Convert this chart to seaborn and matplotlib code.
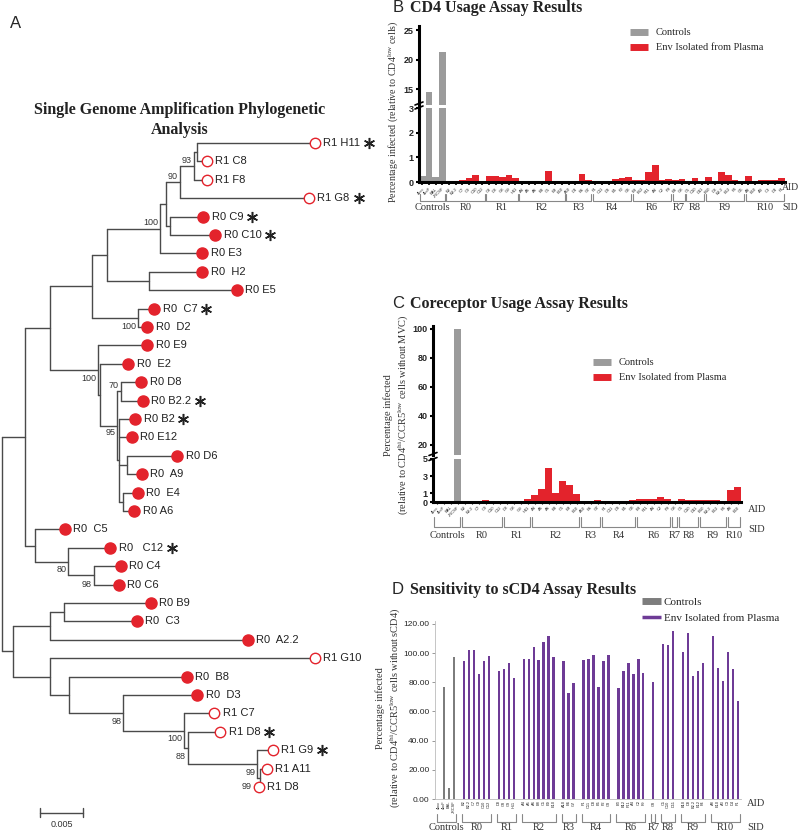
import numpy as np
import pandas as pd
import seaborn as sns
import matplotlib.pyplot as plt
from matplotlib.lines import Line2D
from matplotlib.transforms import blended_transform_factory

W, H = 800, 834

# ---------------- panel A: SGA phylogeny ----------------
LEAF_NAMES = ["R1 H11", "R1 C8", "R1 F8", "R1 G8", "R0 C9", "R0 C10", "R0 E3", "R0  H2",
              "R0 E5", "R0  C7", "R0  D2", "R0 E9", "R0  E2", "R0 D8", "R0 B2.2", "R0 B2",
              "R0 E12", "R0 D6", "R0  A9", "R0  E4", "R0 A6", "R0  C5", "R0   C12", "R0 C4",
              "R0 C6", "R0 B9", "R0  C3", "R0  A2.2", "R1 G10", "R0  B8", "R0  D3", "R1 C7",
              "R1 D8", "R1 G9", "R1 A11", "R1 D8"]
LEAF_DEPTH = [0.0364, 0.0238, 0.0238, 0.0357, 0.0234, 0.0248, 0.0233, 0.0233,
              0.0273, 0.0177, 0.0169, 0.0169, 0.0147, 0.0162, 0.0164, 0.0155,
              0.0151, 0.0204, 0.0163, 0.0158, 0.0154, 0.0073, 0.0126, 0.0138,
              0.0136, 0.0173, 0.0157, 0.0286, 0.0364, 0.0215, 0.0227, 0.0247,
              0.0254, 0.0315, 0.0308, 0.0299]
LEAF_STAR = [0, 3, 4, 5, 9, 14, 15, 22, 32, 33]

# (depth, (bootstrap, label dy px, label dx px), children)
TREE = (0.0, None, [
    (0.0027, None, [
        (0.0056, None, [
            (0.0105, None, [
                (0.0122, None, [
                    (0.0184, ("100", -6, -2), [
                        (0.0191, None, [
                            (0.0207, ("90", -6, -2), [
                                (0.0223, ("93", -5, -2), [(0.0227, None, [0, 1]), 2]),
                                3]),
                            (0.0195, None, [4, 5])]),
                        6]),
                    (0.0171, None, [7, 8])]),
                (0.0158, ("100", 9, -2), [9, 10])]),
            (0.0112, ("100", 8, -2), [11,
                (0.0114, None, [12,
                    (0.0134, ("95", 7, -2), [
                        (0.0138, ("70", -6, -2), [13, 14]),
                        (0.0136, None, [15, 16, (0.0145, None, [17, 18]),
                                        (0.0141, None, [19, 20])])])])])]),
        (0.0038, None, [21, (0.0077, ("80", 8, -2), [22, (0.0107, ("98", 9, -2), [23, 24])])])]),
    (0.0013, None, [
        (0.0056, None, [(0.0072, None, [25, 26]), 27]),
        (0.0056, None, [28,
            (0.0078, None, [29,
                (0.0141, ("98", 9, -2), [30,
                    (0.0212, ("100", 8, -2), [31,
                        (0.0216, ("88", 9, -2), [32,
                            (0.0297, ("99", 8, -2),
                             [33, (0.0300, ("99", 9, -8), [34, 35])])])])])])])])])

# ---------------- bar panels ----------------
SID = ["R0", "R1", "R2", "R3", "R4", "R6", "R7", "R8", "R9", "R10"]
CTRL_AID = ["4bcc", "4bcF", "BAL", "JRCSF"]

B_CTRL = [0.25, 14.5, 0.2, 21.3]
B_ENV = [[0.02, 0.02, 0.1, 0.17, 0.27, 0.03],
         [0.23, 0.23, 0.2, 0.28, 0.15],
         [0.03, 0.03, 0.06, 0.03, 0.45, 0.05, 0.06],
         [0.03, 0.06, 0.32, 0.08],
         [0.06, 0.06, 0.05, 0.14, 0.15, 0.22],
         [0.08, 0.1, 0.4, 0.7, 0.08, 0.12],
         [0.1, 0.13],
         [0.05, 0.17, 0.05],
         [0.22, 0.04, 0.42, 0.28, 0.1, 0.04],
         [0.25, 0.06, 0.08, 0.1, 0.08, 0.16]]
B_AID = [["B2", "B2.2", "C7", "C9", "C10", "C12"],
         ["C8", "D8", "G8", "G9", "H11"],
         ["A4", "A5", "A6", "B8", "C5", "E9", "E10"],
         ["A10", "D4", "E6", "G7"],
         ["F1", "C11", "D3", "E5", "F2", "G3"],
         ["B3", "B12", "F11", "A4", "C2", "F9"],
         ["E8", "G8"],
         ["C5", "C10", "D11"],
         ["B10", "D8", "B2.2", "E12", "F4", "G6"],
         ["A8", "E10", "A3", "C3", "D4", "F1"]]

C_CTRL = [0, 0, 0, 100]
C_ENV = [[0.05, 0.05, 0.15, 0.2, 0.15, 0.05],
         [0.05, 0.05, 0.05, 0.3],
         [0.85, 1.5, 4.0, 1.1, 2.5, 2.0, 0.9],
         [0.15, 0.05, 0.2],
         [0.1, 0.1, 0.15, 0.15, 0.2],
         [0.35, 0.4, 0.35, 0.55, 0.3],
         [0.05],
         [0.3, 0.25, 0.25],
         [0.2, 0.2, 0.25, 0.15],
         [1.45, 1.75]]
C_AID = [["B2", "B2.2", "C7", "C9", "C10", "C12"],
         ["D8", "G8", "G9", "H11"],
         ["A4", "A5", "A6", "B8", "C5", "E9", "E10"],
         ["A10", "E6", "G7"],
         ["F1", "C11", "D3", "E5", "G3"],
         ["B3", "F11", "A4", "C2", "F9"],
         ["G8"],
         ["C5", "C10", "D11"],
         ["B10", "B2.2", "E12", "F4"],
         ["A8", "E10"]]

D_CTRL = [0, 77, 7.5, 97.5]
D_ENV = [[94.5, 102, 102, 85.5, 94.5, 98],
         [88, 89, 93, 83],
         [96, 96, 104, 95.5, 107.5, 112, 97],
         [94.5, 72.5, 79.5],
         [95.5, 96, 99, 76.5, 94.5, 98.5],
         [76, 87.5, 93, 85.5, 96, 86.5],
         [80.5],
         [106, 105.5, 115],
         [101, 113.5, 84, 87.5, 93],
         [111.5, 89.5, 81, 100.5, 89, 67]]
D_AID = [["B2", "B2.2", "C7", "C9", "C10", "C12"],
         ["D8", "G8", "G9", "H11"],
         ["A4", "A5", "A6", "B8", "C5", "E9", "E10"],
         ["A10", "E6", "G7"],
         ["F1", "C11", "D3", "E5", "F2", "G3"],
         ["B3", "B12", "F11", "A4", "C2", "F9"],
         ["G8"],
         ["C5", "C10", "D11"],
         ["B10", "D8", "B2.2", "E12", "F4"],
         ["A8", "E10", "A3", "C3", "D4", "F1"]]

RED = "#e3232c"
GREY = "#9b9b9b"
PURPLE = "#6e3b96"
DGREY = "#7d7d7d"

sns.set_theme(style="white")
plt.rcParams["font.family"] = ["Liberation Sans", "DejaVu Sans"]
plt.rcParams["mathtext.fontset"] = "custom"
plt.rcParams["mathtext.rm"] = "Liberation Serif"
plt.rcParams["mathtext.it"] = "Liberation Serif:italic"
SERIF = ["Liberation Serif", "DejaVu Serif"]

fig = plt.figure(figsize=(W / 100, H / 100), dpi=100)


def fx(x):
    return x / W


def fy(y):
    return 1 - y / H


def add_ax(x0, y0, x1, y1):
    return fig.add_axes([x0 / W, 1 - y1 / H, (x1 - x0) / W, (y1 - y0) / H])


# ---------------- draw tree ----------------
axt = fig.add_axes([0, 0, 0.5, 1])
axt.set_xlim(-0.000233, 0.04629)
axt.set_ylim(37.55, -7.77)
axt.axis("off")
LC = "#4a4a4a"


def draw(node):
    if isinstance(node, int):
        return LEAF_DEPTH[node], float(node)
    depth, boot, kids = node
    pts = [draw(k) for k in kids]
    axt.plot([depth, depth], [pts[0][1], pts[-1][1]], color=LC, lw=1.0)
    for kx, ky in pts:
        axt.plot([depth, kx], [ky, ky], color=LC, lw=1.0)
    y = (pts[0][1] + pts[-1][1]) / 2
    if boot:
        axt.annotate(boot[0], (depth, y), xytext=(boot[2] * 0.72, -boot[1] * 0.72),
                     textcoords="offset points", ha="right", va="center",
                     fontsize=6.5, color="#333333")
    return depth, y


draw(TREE)
leaf_y = np.arange(len(LEAF_NAMES))
is_open = np.array([n.startswith("R1") for n in LEAF_NAMES])
ld = np.array(LEAF_DEPTH)
axt.plot(ld[~is_open], leaf_y[~is_open], "o", ms=8, color=RED, mec=RED, zorder=3)
axt.plot(ld[is_open], leaf_y[is_open], "o", ms=7.5, mfc="white", mec=RED, mew=1.0, zorder=3)
leaf_txt = []
for i, name in enumerate(LEAF_NAMES):
    t = axt.annotate(name, (LEAF_DEPTH[i], i), xytext=(6, 0), textcoords="offset points",
                     va="center", ha="left", fontsize=8, color="#222222")
    leaf_txt.append(t)

# scale bar
axt.plot([0.00442, 0.00942], [36.4, 36.4], color=LC, lw=1)
axt.plot([0.00442, 0.00442], [36.15, 36.65], color=LC, lw=1)
axt.plot([0.00942, 0.00942], [36.15, 36.65], color=LC, lw=1)
axt.text(0.00692, 37.05, "0.005", ha="center", va="center", fontsize=6.5, color="#333333")

fig.text(fx(10), fy(24), "A", fontsize=12, ha="left", va="center")
fig.text(fx(180), fy(120), "Single Genome Amplification Phylogenetic\nAnalysis",
         ha="center", va="center", fontsize=11.5, fontweight="bold", family=SERIF,
         linespacing=1.25, color="#222222")


# ---------------- bar helpers ----------------
def build(ctrl, env, aid, gap):
    pos, val, kind, labels, spans = [], [], [], [], []
    p = 0
    start = p
    for v, a in zip(ctrl, CTRL_AID):
        pos.append(p); val.append(v); kind.append("Controls"); labels.append(a)
        p += 1
    spans.append((start, p - 1, "Controls"))
    p += gap
    for g, vals, names in zip(SID, env, aid):
        start = p
        for v, a in zip(vals, names):
            pos.append(p); val.append(v); kind.append("Env"); labels.append(a)
            p += 1
        spans.append((start, p - 1, g))
        p += gap
    df = pd.DataFrame({"pos": pos, "value": val, "kind": kind, "aid": labels})
    return df, spans


def bars(ax, df, palette, width):
    sns.barplot(data=df, x="pos", y="value", hue="kind", palette=palette,
                native_scale=True, dodge=False, width=width, saturation=1,
                errorbar=None, legend=False, linewidth=0, ax=ax)
    ax.set_xlabel("")
    ax.set_ylabel("")


def brackets(ax, spans, y_tick, y_line, y_text, color="#888888", inset=0.4):
    tr = blended_transform_factory(ax.transData, fig.transFigure)
    for a, b, name in spans:
        x0, x1 = a - inset, b + inset
        ax.plot([x0, x0, x1, x1], [fy(y_tick), fy(y_line), fy(y_line), fy(y_tick)],
                transform=tr, color=color, lw=0.8, clip_on=False)
        ax.text((a + b) / 2, fy(y_text), name, transform=tr, ha="center", va="center",
                fontsize=7.5, family=SERIF, color="#333333")


def style_thick(ax, bottom=True):
    for s in ["top", "right"]:
        ax.spines[s].set_visible(False)
    ax.spines["left"].set_linewidth(2.2)
    ax.spines["left"].set_color("black")
    if bottom:
        ax.spines["bottom"].set_linewidth(2.2)
        ax.spines["bottom"].set_color("black")
    else:
        ax.spines["bottom"].set_visible(False)
    ax.tick_params(axis="y", direction="out", length=2.5, width=1.5, pad=1.5,
                   labelsize=6.5, left=True, color="black")
    for lab in ax.get_yticklabels():
        lab.set_fontweight("bold")


def legend(x, y, handles, labels, pad=0.75, size=7.5):
    fig.legend(handles, labels, loc="upper left", bbox_to_anchor=(fx(x), fy(y)),
               frameon=False, prop={"family": SERIF, "size": size}, handlelength=1.75,
               handletextpad=pad, labelspacing=0.55, borderaxespad=0, borderpad=0)


def panel_title(y, letter, title):
    fig.text(fx(404), fy(y), letter, fontsize=12, ha="right", va="center")
    fig.text(fx(410), fy(y), title, fontsize=11.5, fontweight="bold",
             family=SERIF, va="center", color="#222222")


# ---------------- panel B ----------------
dfB, spansB = build(B_CTRL, B_ENV, B_AID, 0)
palBC = {"Controls": GREY, "Env": RED}
nB = len(dfB)
axB_top = add_ax(419, 26.5, 785, 105)
axB = add_ax(419, 108, 785, 182)
for ax in (axB_top, axB):
    bars(ax, dfB, palBC, 1.0)
    ax.set_xlim(-0.5, nB - 0.5)
axB_top.set_ylim(12.3, 25.6)
axB_top.set_yticks([15, 20, 25])
axB_top.set_xticks([])
axB.set_ylim(0, 3)
axB.set_yticks([0, 1, 2, 3])
axB.set_xticks(dfB["pos"])
axB.set_xticklabels(dfB["aid"], rotation=45, ha="right", rotation_mode="anchor", fontsize=3)
axB.tick_params(axis="x", direction="out", length=2.5, width=1.2, pad=1, bottom=True, color="black")
style_thick(axB_top, bottom=False)
style_thick(axB)
for yy in (103.5, 107.5):
    fig.add_artist(Line2D([fx(415), fx(423)], [fy(yy + 1.5), fy(yy - 1.5)], color="black", lw=1.2))
brackets(axB, spansB, 194, 201, 208)
fig.text(fx(782), fy(188), "AID", fontsize=7, family=SERIF, va="center", color="#333333")
fig.text(fx(782), fy(208), "SID", fontsize=7, family=SERIF, va="center", color="#333333")
panel_title(8, "B", "CD4 Usage Assay Results")
fig.text(fx(393), fy(112), r"Percentage infected (relative to CD4$^{\mathrm{low}}$ cells)",
         rotation=90, ha="center", va="center", fontsize=7.2, family=SERIF, color="#333333")
legend(630, 28, [Line2D([0], [0], color=GREY, lw=5, solid_capstyle="butt"),
                 Line2D([0], [0], color=RED, lw=5, solid_capstyle="butt")],
       ["Controls", "Env Isolated from Plasma"])

# ---------------- panel C ----------------
dfC, spansC = build(C_CTRL, C_ENV, C_AID, 0)
nC = len(dfC)
axC_top = add_ax(433, 326, 741, 455)
axC = add_ax(433, 459, 741, 502)
for ax in (axC_top, axC):
    bars(ax, dfC, palBC, 1.0)
    ax.set_xlim(-0.5, nC - 0.5)
axC_top.set_ylim(13, 102)
axC_top.set_yticks([20, 40, 60, 80, 100])
axC_top.set_xticks([])
axC.set_ylim(0, 5)
axC.set_yticks([0, 1, 3, 5])
axC.set_xticks(dfC["pos"])
axC.set_xticklabels(dfC["aid"], rotation=45, ha="right", rotation_mode="anchor", fontsize=3)
axC.tick_params(axis="x", direction="out", length=1.5, width=0.8, pad=1, bottom=True, color="black")
style_thick(axC_top, bottom=False)
style_thick(axC)
for yy in (454, 459):
    fig.add_artist(Line2D([fx(429), fx(437)], [fy(yy + 1.5), fy(yy - 1.5)], color="black", lw=1.2))
brackets(axC, spansC, 517, 527, 535)
fig.text(fx(748), fy(509), "AID", fontsize=7.5, family=SERIF, va="center", color="#333333")
fig.text(fx(748), fy(529), "SID", fontsize=7.5, family=SERIF, va="center", color="#333333")
panel_title(304, "C", "Coreceptor Usage Assay Results")
fig.text(fx(397), fy(415),
         "Percentage infected\n" + r"(relative to CD4$^{\mathrm{hi}}$/CCR5$^{\mathrm{low}}$ cells without MVC)",
         rotation=90, ha="center", va="center", fontsize=7.5, family=SERIF, color="#333333",
         linespacing=1.3)
legend(593, 358, [Line2D([0], [0], color=GREY, lw=5, solid_capstyle="butt"),
                  Line2D([0], [0], color=RED, lw=5, solid_capstyle="butt")],
       ["Controls", "Env Isolated from Plasma"])

# ---------------- panel D ----------------
dfD, spansD = build(D_CTRL, D_ENV, D_AID, 1)
axD = add_ax(435, 621, 741, 799)
bars(axD, dfD[dfD["kind"] == "Controls"], {"Controls": DGREY}, 0.3)
bars(axD, dfD[dfD["kind"] == "Env"], {"Env": PURPLE}, 0.47)
axD.set_xlim(-0.8, dfD["pos"].max() + 0.6)
axD.set_ylim(0, 122)
axD.set_yticks([0, 20, 40, 60, 80, 100, 120])
axD.set_yticklabels([f"{v:.2f}" for v in [0, 20, 40, 60, 80, 100, 120]])
axD.set_xticks(dfD["pos"])
axD.set_xticklabels(dfD["aid"], rotation=90, fontsize=2.8)
for s in ["top", "right"]:
    axD.spines[s].set_visible(False)
axD.spines["left"].set_color("#bbbbbb")
axD.spines["left"].set_linewidth(0.6)
axD.spines["bottom"].set_color("#bbbbbb")
axD.spines["bottom"].set_linewidth(0.6)
axD.tick_params(axis="y", direction="out", length=2, width=0.6, pad=2, labelsize=6,
                left=True, color="#888888")
axD.tick_params(axis="x", length=0, pad=1)
brackets(axD, spansD, 814, 822, 828)
fig.text(fx(747), fy(804), "AID", fontsize=7.5, family=SERIF, va="center", color="#333333")
fig.text(fx(747), fy(827), "SID", fontsize=7.5, family=SERIF, va="center", color="#333333")
panel_title(590, "D", "Sensitivity to sCD4 Assay Results")
fig.text(fx(389), fy(708),
         "Percentage infected\n" + r"(relative to CD4$^{\mathrm{hi}}$/CCR5$^{\mathrm{low}}$ cells without sCD4)",
         rotation=90, ha="center", va="center", fontsize=7.5, family=SERIF, color="#333333",
         linespacing=1.3)
legend(642, 597, [Line2D([0], [0], color=DGREY, lw=5, solid_capstyle="butt"),
                  Line2D([0], [0], color=PURPLE, lw=2.5, solid_capstyle="butt")],
       ["Controls", "Env Isolated from Plasma"], pad=0.2, size=8)

# asterisks after the starred leaf labels
fig.canvas.draw()
renderer = fig.canvas.get_renderer()
inv = axt.transData.inverted()
for i in LEAF_STAR:
    bb = leaf_txt[i].get_window_extent(renderer)
    x, _ = inv.transform((bb.x1 + 9, 0))
    axt.plot([x], [i], marker=(6, 2, 0), ms=8, color="#222222", mew=1.1, clip_on=False)

fig.savefig("out.png", dpi=100)
